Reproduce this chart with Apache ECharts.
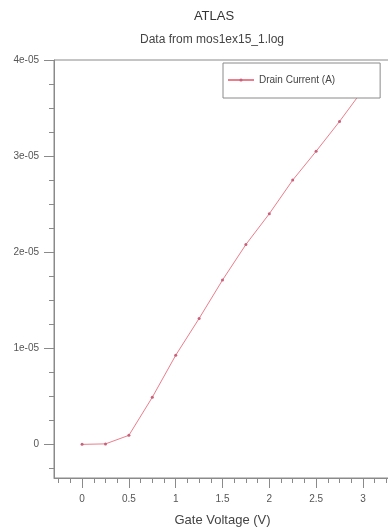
<!DOCTYPE html>
<html>
<head>
<meta charset="utf-8">
<script src="https://cdn.jsdelivr.net/npm/echarts@6/dist/echarts.min.js"></script>
<style>html,body{margin:0;padding:0;background:#fff;}#c{width:388px;height:531px;}</style>
</head>
<body>
<div id="c"></div>
<script>
var titleText = 'ATLAS';
var subtitleText = 'Data from mos1ex15_1.log';
var seriesName = 'Drain Current (A)';
var xAxisName = 'Gate Voltage (V)';
var gateVoltage = [0, 0.25, 0.5, 0.75, 1.0, 1.25, 1.5, 1.75, 2.0, 2.25, 2.5, 2.75, 3.0];
var drainCurrent = [0, 0.005e-5, 0.094e-5, 0.49e-5, 0.927e-5, 1.31e-5, 1.71e-5, 2.08e-5, 2.40e-5, 2.75e-5, 3.05e-5, 3.36e-5, 3.69e-5];
var yTickLabels = {0: '0', 1: '1e-05', 2: '2e-05', 3: '3e-05', 4: '4e-05'};

var FONT = 'Liberation Sans';
var AX = '#8a8a8a';
var TXT = '#555';

// main plot geometry
var L = 54, T = 60, W = 337, H = 418;
var xMin = -0.3, xMax = 3.3, yMin = -0.35e-5, yMax = 4e-5;
function px(v){ return L + (v - xMin) / (xMax - xMin) * W; }
function py(v){ return T + (yMax - v) / (yMax - yMin) * H; }

var data = gateVoltage.map(function(x, i){ return [x, drainCurrent[i]]; });

function g(o){ o.outerBoundsMode = 'none'; o.containLabel = false; return o; }

var option = {
  backgroundColor: '#fff',
  animation: false,
  title: [
    {text: titleText, left: 209, top: 5, textAlign: 'center',
     textStyle: {fontFamily: FONT, fontSize: 13, fontWeight: 'normal', color: '#333'}},
    {text: subtitleText, left: 207, top: 29, textAlign: 'center',
     textStyle: {fontFamily: FONT, fontSize: 12, fontWeight: 'normal', color: '#444'}}
  ],
  legend: {
    left: 223, top: 63, z: 10,
    orient: 'vertical',
    padding: [12, 45, 13, 4],
    itemWidth: 26, itemHeight: 4, itemGap: 5,
    borderColor: AX, borderWidth: 1, backgroundColor: '#fff',
    textStyle: {fontFamily: FONT, fontSize: 10, color: '#444'},
    data: [seriesName]
  },
  grid: [
    g({left: L, top: T, width: W, height: H, show: true, borderColor: AX, borderWidth: 1}),
    g({left: px(0), top: T, width: px(3) - px(0), height: H}),
    g({left: px(-0.25), top: T, width: px(3.25) - px(-0.25), height: H}),
    g({left: L, top: T, width: W, height: py(0) - T}),
    g({left: L, top: T, width: W, height: py(-0.25e-5) - T})
  ],
  xAxis: [
    {gridIndex: 0, type: 'value', min: xMin, max: xMax, axisLine: {show: true, onZero: false, lineStyle: {color: AX}},
     axisTick: {show: false}, axisLabel: {show: false}, splitLine: {show: false},
     name: xAxisName, nameLocation: 'middle', nameGap: 36,
     nameTextStyle: {fontFamily: FONT, fontSize: 13, color: '#444'}},
    {gridIndex: 1, type: 'value', min: 0, max: 3, interval: 0.5, position: 'bottom',
     axisLine: {show: false}, axisTick: {show: true, length: 10, lineStyle: {color: AX}},
     axisLabel: {show: true, margin: 16, fontFamily: FONT, fontSize: 10, color: TXT,
       formatter: function(v){ return String(v); }},
     splitLine: {show: false}},
    {gridIndex: 2, type: 'value', min: -0.25, max: 3.25, interval: 0.125, position: 'bottom',
     axisLine: {show: false}, axisTick: {show: true, length: 5, lineStyle: {color: AX}},
     axisLabel: {show: false}, splitLine: {show: false}},
    {gridIndex: 3, type: 'value', show: false, min: 0, max: 1},
    {gridIndex: 4, type: 'value', show: false, min: 0, max: 1}
  ],
  yAxis: [
    {gridIndex: 0, type: 'value', min: yMin, max: yMax, axisLine: {show: true, onZero: false, lineStyle: {color: AX}},
     axisTick: {show: false}, axisLabel: {show: false}, splitLine: {show: false}},
    {gridIndex: 1, type: 'value', show: false, min: 0, max: 1},
    {gridIndex: 2, type: 'value', show: false, min: 0, max: 1},
    {gridIndex: 3, type: 'value', min: 0, max: 4e-5, interval: 1e-5, position: 'left',
     axisLine: {show: false}, axisTick: {show: true, length: 10, lineStyle: {color: AX}},
     axisLabel: {show: true, margin: 15, fontFamily: FONT, fontSize: 10, color: TXT,
       formatter: function(v){ var k = Math.round(v / 1e-5); return yTickLabels[k] !== undefined ? yTickLabels[k] : ''; }},
     splitLine: {show: false}},
    {gridIndex: 4, type: 'value', min: -0.25e-5, max: 4e-5, interval: 0.25e-5, position: 'left',
     axisLine: {show: false}, axisTick: {show: true, length: 5, lineStyle: {color: AX}},
     axisLabel: {show: false}, splitLine: {show: false}}
  ],
  series: [{
    name: seriesName, type: 'line', xAxisIndex: 0, yAxisIndex: 0,
    data: data, symbol: 'circle', symbolSize: 3, showSymbol: true,
    lineStyle: {color: '#ec7d8c', width: 1},
    itemStyle: {color: '#c8607a'},
    z: 1, clip: true
  }]
};
var chart = echarts.init(document.getElementById('c'), null, {renderer: 'canvas'});
chart.setOption(option);
</script>
</body>
</html>
